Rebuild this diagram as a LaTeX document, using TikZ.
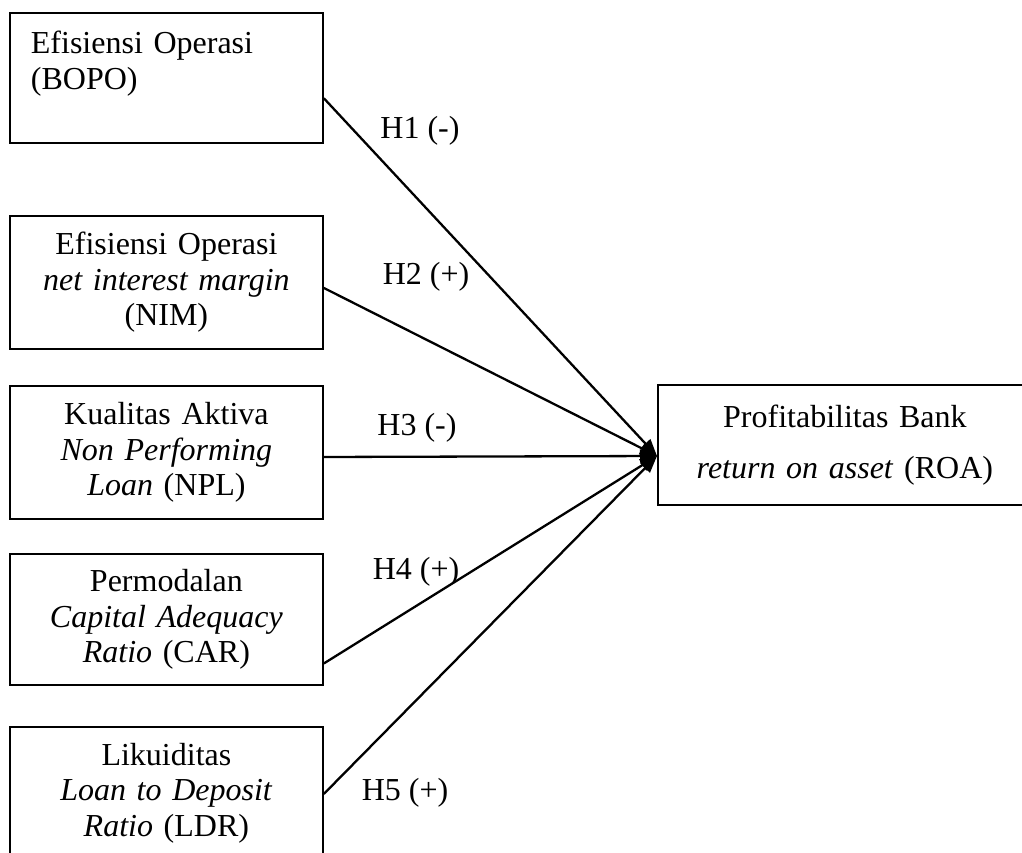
\documentclass[tikz,border=0pt]{standalone}
\usepackage{fontspec}
\setmainfont{Liberation Serif}
\usetikzlibrary{arrows.meta,calc}
\begin{document}
\begin{tikzpicture}[x=1pt,y=-1pt,
  box/.style={draw,line width=1.8pt,inner sep=0pt,minimum width=313pt,
    text width=306pt,align=center,font=\fontsize{32}{35.5}\selectfont},
  conn/.style={line width=2.3pt,-{Triangle[length=17pt,width=13pt]}},
  hlab/.style={inner sep=0pt,font=\fontsize{32}{35}\selectfont}]
\useasboundingbox (0,0) rectangle (1022,852);
% left column
\node[box,anchor=north west,minimum height=130pt,text width=271pt,align=left] (b1) at (9,12)
  {Efisiensi Operasi\\(BOPO)\\\mbox{}};
\node[box,anchor=north west,minimum height=133pt] (b2) at (9,215)
  {Efisiensi Operasi\\\textit{net interest margin}\\(NIM)};
\node[box,anchor=north west,minimum height=133pt] (b3) at (9,385)
  {Kualitas Aktiva\\\textit{Non Performing}\\\textit{Loan} (NPL)};
\node[box,anchor=north west,minimum height=131pt] (b4) at (9,553)
  {Permodalan\\\textit{Capital Adequacy}\\\textit{Ratio} (CAR)};
\node[box,anchor=north west,minimum height=132pt] (b5) at (9,726)
  {Likuiditas\\\textit{Loan to Deposit}\\\textit{Ratio} (LDR)};
% target
\node[box,anchor=north west,minimum width=374pt,text width=366pt,minimum height=120pt] (r) at (657,384)
  {Profitabilitas Bank\\[15pt]\textit{return on asset} (ROA)};
\coordinate (tip) at (657,456);
% start points on box edges
\coordinate (s1) at ($(b1.north east)!0.654!(b1.south east)$);
\coordinate (s2) at ($(b2.north east)!0.541!(b2.south east)$);
\coordinate (s3) at ($(b3.north east)!0.534!(b3.south east)$);
\coordinate (s4) at ($(b4.north east)!0.832!(b4.south east)$);
\coordinate (s5) at ($(b5.north east)!0.508!(b5.south east)$);
\draw[conn] (s1) -- (tip);
\draw[conn] (s2) -- (tip);
\draw[conn] (s3) -- (tip);
\draw[conn] (s4) -- (tip);
\draw[conn] (s5) -- (tip);
% labels
\node[hlab] (h1) at (420,131) {H1 (-)};
\node[hlab] (h2) at (426,277) {H2 (+)};
\node[hlab] (h3) at (417,428) {H3 (-)};
\node[hlab] (h4) at (416,572) {H4 (+)};
\node[hlab] (h5) at (405,793) {H5 (+)};
\end{tikzpicture}
\end{document}
